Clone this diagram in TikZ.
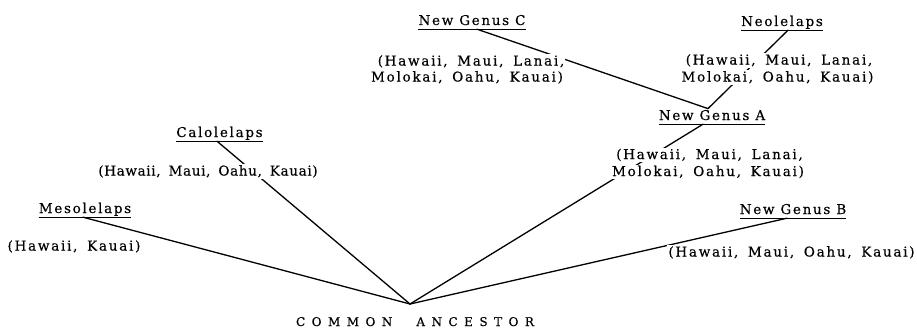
\documentclass[tikz,border=0pt]{standalone}
\usepackage{fontspec}
\setmainfont{DejaVu Serif}
\newfontfamily\genusfont[LetterSpace=12.5,FakeBold=0.4]{DejaVu Serif}
\newfontfamily\listfont[LetterSpace=13,WordSpace=1.6,FakeBold=0.4]{DejaVu Serif}
\newfontfamily\narrowlistfont[LetterSpace=5,WordSpace=1.6,FakeBold=0.4]{DejaVu Serif}
\newfontfamily\ancfont[LetterSpace=54,FakeBold=0.3]{DejaVu Serif}
\pgfdeclarelayer{bg}
\pgfsetlayers{bg,main}
\begin{document}
\begin{tikzpicture}[x=1pt,y=-1pt,
  genus/.style={anchor=base, font=\genusfont\fontsize{13.5}{15}\selectfont, inner xsep=0pt, inner ysep=1.2pt, text height=10pt, text depth=2.8pt},
  islands/.style={anchor=base, font=\listfont\fontsize{13.5}{15}\selectfont, inner sep=1pt, fill=white},
  narrowislands/.style={islands, font=\narrowlistfont\fontsize{13.5}{15}\selectfont},
  ancestor/.style={anchor=base, font=\ancfont\fontsize{12}{14}\selectfont, inner sep=0pt},
  branch/.style={line width=1.3pt, line cap=round},
  uline/.style={line width=0.8pt}]
\useasboundingbox (0,0) rectangle (917,329);

\node[genus] (meso) at (85,213) {Mesolelaps};
\node[islands] (mesoL) at (74,250.5) {(Hawaii, Kauai)};

\node[genus] (calo) at (219.5,137) {Calolelaps};
\node[narrowislands] (caloL) at (208,175.5) {(Hawaii, Maui, Oahu, Kauai)};

\node[genus] (genC) at (472,25) {New Genus C};
\node[islands] (genCa) at (471,65.5) {(Hawaii, Maui, Lanai,};
\node[islands] (genCb) at (467,81.5) {Molokai, Oahu, Kauai)};

\node[genus] (neo) at (782,26) {Neolelaps};
\node[islands] (neoa) at (779,64.5) {(Hawaii, Maui, Lanai,};
\node[islands] (neob) at (777.5,81.5) {Molokai, Oahu, Kauai)};

\node[genus] (genA) at (712,120) {New Genus A};
\node[islands] (genAa) at (709.5,159) {(Hawaii, Maui, Lanai,};
\node[islands] (genAb) at (708,176) {Molokai, Oahu, Kauai)};

\node[genus] (genB) at (793,214) {New Genus B};
\node[islands] (genBL) at (791.5,256.5) {(Hawaii, Maui, Oahu, Kauai)};

\node[ancestor] (anc) at (415,326) {COMMON\hspace{24pt}ANCESTOR};
\coordinate (apex) at (410,304);

\foreach \n in {meso,calo,genC,neo,genA,genB}
  \draw[uline] (\n.south west) -- (\n.south east);

\begin{pgfonlayer}{bg}
\draw[branch] (apex) -- ([xshift=-2pt]meso.south);
\draw[branch] (apex) -- ([xshift=-2.5pt]calo.south);
\draw[branch] (apex) -- ([xshift=-9pt]genA.south);
\draw[branch] (apex) -- ([xshift=-6pt]genB.south);
\draw[branch] ([xshift=-4pt]genA.north) -- ([xshift=5pt]genC.south);
\draw[branch] ([xshift=-4pt]genA.north) -- ([xshift=6pt]neo.south);
\end{pgfonlayer}
\end{tikzpicture}
\end{document}
